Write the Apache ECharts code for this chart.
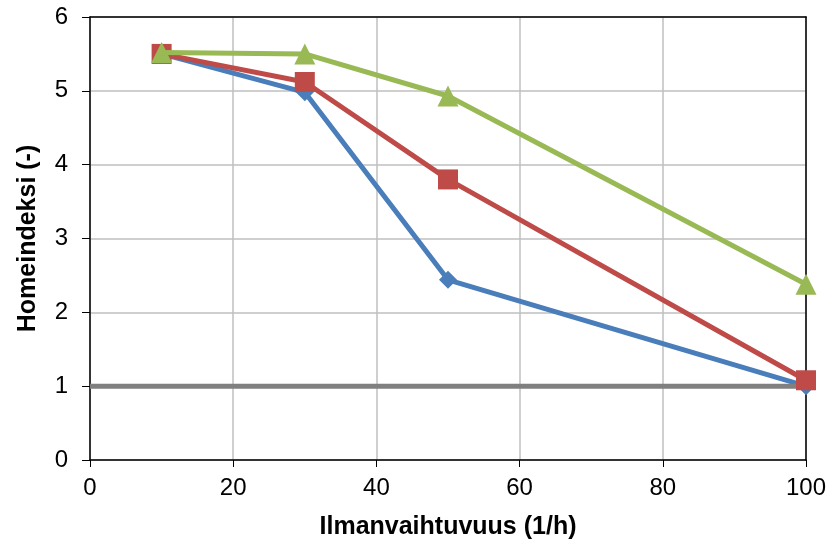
<!DOCTYPE html>
<html>
<head>
<meta charset="utf-8">
<script src="https://cdn.jsdelivr.net/npm/echarts@6/dist/echarts.min.js"></script>
<style>
  html, body { margin: 0; padding: 0; background: #fff; }
  #chart { width: 838px; height: 545px; }
</style>
</head>
<body>
<div id="chart"></div>
<script>
// x-arvot (1/h) ja homeindeksit
const xValues = [10, 30, 50, 100];
const blueValues = [5.5, 4.98, 2.44, 1.0];
const redValues = [5.5, 5.12, 3.8, 1.08];
const greenValues = [5.52, 5.5, 4.93, 2.38];
const limitX = [0, 100];
const limitValues = [1, 1];

const pairs = (xs, ys) => xs.map((x, i) => [x, ys[i]]);

const font = 'Liberation Sans, Arial, sans-serif';
const frame = { show: true, onZero: false, lineStyle: { color: '#000', width: 1.5 } };
const hidden = { axisTick: { show: false }, axisLabel: { show: false }, splitLine: { show: false } };

const myChart = echarts.init(document.getElementById('chart'));
myChart.setOption({
  animation: false,
  grid: { left: 90, right: 32, top: 17, bottom: 85 },
  xAxis: [{
    type: 'value', min: 0, max: 100, interval: 20,
    name: 'Ilmanvaihtuvuus (1/h)', nameLocation: 'middle', nameGap: 55,
    nameTextStyle: { fontFamily: font, fontSize: 25, fontWeight: 'bold', color: '#000' },
    axisLine: frame,
    axisTick: { show: true, length: 7, lineStyle: { color: '#000' } },
    axisLabel: { fontFamily: font, fontSize: 24, color: '#000', margin: 16 },
    splitLine: { lineStyle: { color: '#bfbfbf', width: 1.5 } }
  }, Object.assign({
    type: 'value', position: 'top', min: 0, max: 100, axisLine: frame
  }, hidden)],
  yAxis: [{
    type: 'value', min: 0, max: 6, interval: 1,
    name: 'Homeindeksi (-)', nameLocation: 'middle', nameGap: 49,
    nameTextStyle: { fontFamily: font, fontSize: 25, fontWeight: 'bold', color: '#000' },
    axisLine: frame,
    axisTick: { show: true, length: 8, lineStyle: { color: '#000' } },
    axisLabel: { fontFamily: font, fontSize: 24, color: '#000', margin: 22 },
    splitLine: { lineStyle: { color: '#bfbfbf', width: 1.5 } }
  }, Object.assign({
    type: 'value', position: 'right', min: 0, max: 6, axisLine: frame
  }, hidden)],
  series: [
    {
      type: 'line', data: pairs(xValues, blueValues), z: 2,
      symbol: 'diamond', symbolSize: 18,
      lineStyle: { color: '#4a7ebb', width: 5 },
      itemStyle: { color: '#4a7ebb' }
    },
    {
      type: 'line', data: pairs(limitX, limitValues), z: 3,
      symbol: 'none',
      lineStyle: { color: '#808080', width: 5 }
    },
    {
      type: 'line', data: pairs(xValues, redValues), z: 4,
      symbol: 'rect', symbolSize: 20,
      lineStyle: { color: '#be4b48', width: 5 },
      itemStyle: { color: '#be4b48' }
    },
    {
      type: 'line', data: pairs(xValues, greenValues), z: 5,
      symbol: 'triangle', symbolSize: 21,
      lineStyle: { color: '#98b954', width: 5 },
      itemStyle: { color: '#98b954' }
    }
  ]
});
</script>
</body>
</html>
